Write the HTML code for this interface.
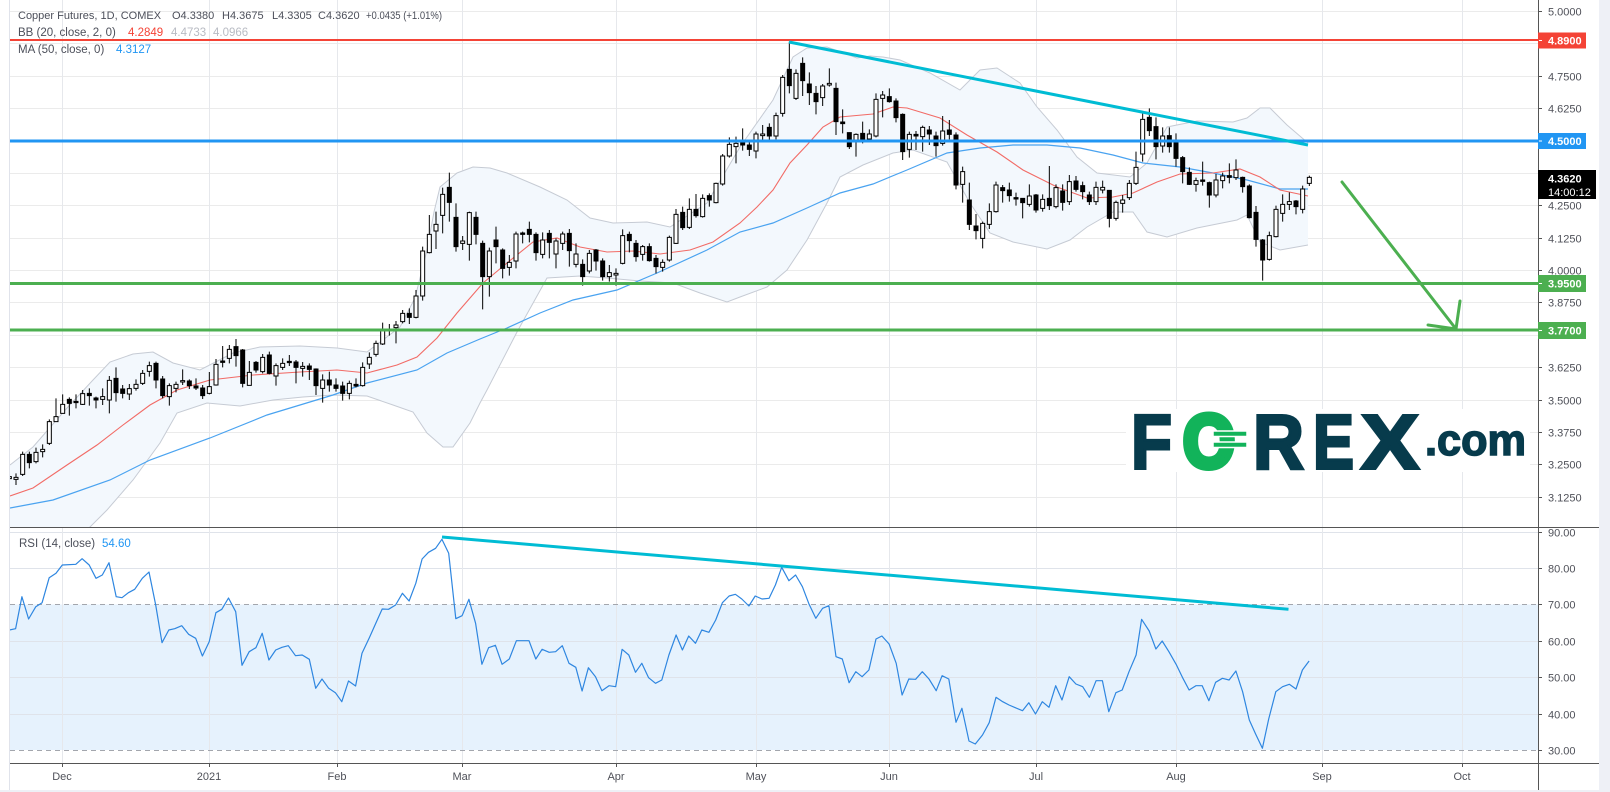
<!DOCTYPE html>
<html><head><meta charset="utf-8"><style>html,body{margin:0;padding:0;background:#fff;}svg{display:block;}</style></head>
<body>
<svg xmlns="http://www.w3.org/2000/svg" width="1610" height="792" viewBox="0 0 1610 792" font-family="'Liberation Sans', sans-serif">
<defs>
<clipPath id="cm"><rect x="10" y="0" width="1528" height="527"/></clipPath>
<clipPath id="cr"><rect x="10" y="528" width="1528" height="235"/></clipPath>
<clipPath id="cra"><rect x="1539" y="528" width="60" height="235"/></clipPath>
</defs>
<rect x="0" y="0" width="1610" height="792" fill="#fff"/>

<!-- RSI band fill -->
<rect x="10" y="604.5" width="1528" height="145.5" fill="#e6f2fd"/>

<!-- grid -->
<path d="M10 11.5H1538M10 43.5H1538M10 76.5H1538M10 108.5H1538M10 141.5H1538M10 173.5H1538M10 205.5H1538M10 238.5H1538M10 270.5H1538M10 302.5H1538M10 335.5H1538M10 367.5H1538M10 400.5H1538M10 432.5H1538M10 464.5H1538M10 497.5H1538" stroke="#ebebeb" stroke-width="1" fill="none"/>
<path d="M10 532.5H1538M10 568.5H1538M10 641.5H1538M10 677.5H1538M10 714.5H1538" stroke="#dfe3ea" stroke-width="1" fill="none"/>
<path d="M62.5 0V763M209.5 0V763M337.5 0V763M462.5 0V763M616.5 0V763M756.5 0V763M889.5 0V763M1036.5 0V763M1176.5 0V763M1322.5 0V763M1462.5 0V763" stroke="#e6e8ec" stroke-width="1" fill="none"/>
<path d="M10 604.5H1538M10 750.5H1538" stroke="#a3a6ad" stroke-width="1" stroke-dasharray="5,4" fill="none"/>

<g clip-path="url(#cm)">
<!-- Bollinger fill -->
<polygon fill="#f3f8fd" points="10,465 33,447 67,408 93,380 110,362 133,354 153,352 173,363 200,370 233,353 260,347 300,346 337,348 367,352 400,327 415,298 427,250 434,212 440,187 457,173 473,167 490,168 507,173 540,187 567,200 590,218 613,223 647,222 670,227 707,203 740,147 773,100 793,57 807,48 827,47 857,58 870,56 883,57 900,60 930,73 960,90 980,70 997,68 1020,83 1037,107 1057,130 1077,157 1097,173 1130,177 1147,163 1167,127 1197,121 1233,122 1247,118 1260,108 1270,108 1287,125 1308,143 1308,245 1280,250 1260,242 1247,215 1237,220 1197,228 1167,237 1147,232 1133,212 1113,212 1087,227 1070,240 1047,249 1013,242 990,233 970,203 947,162 913,150 893,153 863,165 840,177 827,203 807,240 787,270 767,287 740,297 727,302 700,293 673,283 640,281 607,278 580,276 547,278 517,332 487,390 480,403 470,423 453,447 443,447 427,433 413,412 393,405 367,396 333,395 303,397 273,400 240,406 207,403 177,413 160,443 133,480 107,510 90,527 60,545 10,545"/>
<polyline fill="none" stroke="#c6cbd4" stroke-width="1" points="10,465 33,447 67,408 93,380 110,362 133,354 153,352 173,363 200,370 233,353 260,347 300,346 337,348 367,352 400,327 415,298 427,250 434,212 440,187 457,173 473,167 490,168 507,173 540,187 567,200 590,218 613,223 647,222 670,227 707,203 740,147 773,100 793,57 807,48 827,47 857,58 870,56 883,57 900,60 930,73 960,90 980,70 997,68 1020,83 1037,107 1057,130 1077,157 1097,173 1130,177 1147,163 1167,127 1197,121 1233,122 1247,118 1260,108 1270,108 1287,125 1308,143"/>
<polyline fill="none" stroke="#c6cbd4" stroke-width="1" points="10,545 60,545 90,527 107,510 133,480 160,443 177,413 207,403 240,406 273,400 303,397 333,395 367,396 393,405 413,412 427,433 443,447 453,447 470,423 480,403 487,390 517,332 547,278 580,276 607,278 640,281 673,283 700,293 727,302 740,297 767,287 787,270 807,240 827,203 840,177 863,165 893,153 913,150 947,162 970,203 990,233 1013,242 1047,249 1070,240 1087,227 1113,212 1133,212 1147,232 1167,237 1197,228 1237,220 1247,215 1260,242 1280,250 1308,245"/>
<!-- MA50 -->
<polyline fill="none" stroke="#4aa3f0" stroke-width="1.2" points="10,508 53,500 110,480 150,460 210,438 267,415 333,395 367,383 417,370 447,353 480,339 507,328 540,313 573,300 617,290 657,273 707,250 740,232 773,223 807,208 840,193 873,184 907,170 947,153 980,148 1013,145 1047,145 1080,148 1113,155 1143,163 1180,167 1213,173 1247,180 1280,189 1308,189"/>
<!-- BB basis -->
<polyline fill="none" stroke="#f26b66" stroke-width="1.1" points="10,496 33,488 67,465 97,445 123,425 150,405 177,390 210,380 253,375 300,372 337,370 367,373 397,365 417,357 437,338 457,313 483,283 507,263 533,242 557,238 580,247 607,252 633,251 660,254 690,250 713,242 740,223 757,207 773,190 790,163 807,145 823,127 840,117 873,114 893,107 907,108 940,118 967,135 997,152 1023,170 1057,187 1087,198 1113,197 1133,193 1157,182 1180,174 1213,173 1240,169 1260,177 1280,190 1308,196"/>

<!-- Candles group A -->
<g transform="translate(0,150) scale(0.333333)" stroke="#000" stroke-width="3">
<path fill="none" d="M28 975V990M48 970V1005M68 905V978M88 905V955M108 893V940M128 883V922M148 808V885M168 745V815M188 733V790M208 742V797M228 733V775M248 720V765M268 715V767M288 740V775M308 715V765M328 678V790M348 652V755M368 705V745M388 702V750M408 688V722M428 660V705M448 635V680M468 635V715M488 678V745M508 700V767M528 695V727M548 658V705M568 688V717M588 685V720M608 705V747M628 666V733M648 627V707M668 588V652M688 585V640M708 567V650M728 597V712M748 633V706M768 633V668M788 612V670M808 605V673M828 640V707M848 625V660M868 615V648M888 630V700M908 636V680M928 640V690M948 655V735M968 673V758M988 665V725M1008 685V725M1028 695V752M1048 692V748M1068 685V712M1088 637V710M1108 607V657M1128 572V620M1148 518V585M1168 522V557M1188 513V580M1208 480V520M1228 475V522M1248 420V505M1268 290V452M1288 195V310M1308 185V297M1328 113V250M1348 68V215M1368 160V305M1388 258V300M1408 185V332M1428 185V283"/>
<path fill="#000" d="M82 913h12v25h-12zM202 748h12v12h-12zM222 754h12v4h-12zM262 730h12v7h-12zM282 744h12v6h-12zM342 685h12v43h-12zM362 717h12v13h-12zM462 640h12v50h-12zM482 687h12v50h-12zM562 693h12v14h-12zM582 708h12v6h-12zM602 714h12v23h-12zM662 633h12v4h-12zM702 590h12v27h-12zM722 600h12v100h-12zM762 637h12v23h-12zM802 615h12v55h-12zM862 634h12v4h-12zM882 636h12v16h-12zM922 648h12v10h-12zM942 657h12v50h-12zM982 690h12v15h-12zM1002 705h12v10h-12zM1022 708h12v22h-12zM1062 703h12v5h-12zM1222 490h12v12h-12zM1342 112h12v45h-12zM1362 202h12v88h-12zM1422 202h12v51h-12z"/>
<path fill="#fff" d="M22 980h12v6h-12zM42 982h12v6h-12zM62 913h12v60h-12zM102 907h12v28h-12zM122 898h12v7h-12zM142 815h12v65h-12zM162 800h12v15h-12zM182 763h12v27h-12zM242 731h12v32h-12zM302 740h12v8h-12zM322 691h12v59h-12zM382 716h12v16h-12zM402 703h12v12h-12zM422 670h12v30h-12zM442 647h12v17h-12zM502 707h12v33h-12zM522 703h12v12h-12zM542 692h12v4h-12zM622 710h12v20h-12zM642 643h12v62h-12zM682 598h12v27h-12zM742 667h12v39h-12zM782 622h12v43h-12zM822 647h12v31h-12zM842 640h12v12h-12zM902 649h12v6h-12zM962 690h12v25h-12zM1042 700h12v30h-12zM1082 652h12v55h-12zM1102 622h12v20h-12zM1122 580h12v33h-12zM1142 540h12v42h-12zM1162 538h12v4h-12zM1182 525h12v8h-12zM1202 490h12v25h-12zM1242 438h12v64h-12zM1262 303h12v135h-12zM1282 253h12v55h-12zM1302 223h12v20h-12zM1322 133h12v63h-12zM1382 273h12v7h-12zM1402 188h12v95h-12z"/>
</g>
<!-- Candles group B -->
<g transform="translate(440,30) scale(0.333333)" stroke="#000" stroke-width="3">
<path fill="none" d="M128 632V838M148 653V800M168 590V700M188 655V745M208 675V737M228 605V715M248 605V640M268 575V637M288 607V692M308 607V685M328 600V685M348 625V715M368 605V660M388 597V710M408 640V712M428 688V767M448 660V730M468 657V722M488 685V752M508 705V755M528 715V767M548 598V703M568 605V667M588 630V695M608 645V692M628 640V695M648 675V730M668 688V725M688 617V695M708 537V642M728 530V600M748 505V597M768 492V563M788 493V563M808 490V530M828 458V520M848 372V467M868 322V383M888 320V400M908 295V362M928 332V378M948 305V385M968 285V335M988 280V330M1008 248V328M1028 135V260M1048 35V190M1068 118V210M1088 82V198M1108 127V225M1128 168V253M1148 162V228M1168 115V170M1188 158V315M1208 238V310M1228 307V357M1248 310V380M1268 275V340M1288 298V330M1308 190V322M1328 183V262M1348 175V218M1368 205V277M1388 250V390M1408 305V383M1428 303V360"/>
<path fill="#000" d="M122 640h12v100h-12zM162 630h12v20h-12zM182 660h12v55h-12zM242 609h12v4h-12zM262 598h12v15h-12zM282 613h12v55h-12zM322 610h12v27h-12zM382 610h12v52h-12zM422 703h12v37h-12zM462 660h12v33h-12zM482 693h12v47h-12zM562 613h12v19h-12zM582 640h12v40h-12zM622 650h12v42h-12zM642 685h12v25h-12zM722 547h12v46h-12zM762 538h12v19h-12zM802 497h12v13h-12zM902 335h12v10h-12zM922 345h12v13h-12zM982 292h12v26h-12zM1042 118h12v49h-12zM1082 100h12v52h-12zM1102 162h12v26h-12zM1122 190h12v25h-12zM1182 175h12v100h-12zM1202 276h12v5h-12zM1222 308h12v42h-12zM1262 310h12v18h-12zM1342 200h12v15h-12zM1362 213h12v50h-12zM1382 253h12v112h-12zM1422 313h12v5h-12z"/>
<path fill="#fff" d="M142 663h12v77h-12zM202 697h12v15h-12zM222 612h12v81h-12zM302 630h12v43h-12zM342 633h12v39h-12zM362 612h12v28h-12zM402 672h12v31h-12zM442 670h12v53h-12zM502 728h12v12h-12zM522 730h12v5h-12zM542 617h12v83h-12zM602 650h12v23h-12zM662 697h12v15h-12zM682 622h12v68h-12zM702 553h12v87h-12zM742 538h12v54h-12zM782 505h12v55h-12zM822 460h12v58h-12zM842 378h12v84h-12zM862 343h12v35h-12zM882 340h12v10h-12zM942 312h12v51h-12zM962 312h12v5h-12zM1002 257h12v61h-12zM1022 142h12v108h-12zM1062 130h12v75h-12zM1142 168h12v35h-12zM1162 160h12v5h-12zM1242 313h12v17h-12zM1282 312h12v15h-12zM1302 208h12v110h-12zM1322 195h12v10h-12zM1402 313h12v45h-12z"/>
</g>
<!-- Candles group C -->
<g transform="translate(880,30) scale(0.333333)" stroke="#000" stroke-width="3">
<path fill="none" d="M128 287V365M148 288V345M168 305V380M188 258V347M208 270V328M228 307V478M248 410V518M268 458V600M288 552V628M308 575V655M328 520V597M348 455V548M368 465V518M388 458V515M408 488V527M428 505V565M448 463V530M468 492V548M488 493V545M508 408V540M528 463V535M548 463V542M568 435V525M588 438V485M608 455V508M628 485V525M648 455V525M668 452V490M688 480V592M708 512V572M728 495V548M748 450V510M768 365V465M788 250V395M808 235V318M828 262V388M848 292V368M868 292V368M888 310V410M908 378V460M928 412V465M948 443V485M968 395V467M988 455V533M1008 432V502M1028 428V475M1048 400V460M1068 388V450M1088 440V488M1108 463V565M1128 528V650M1148 627V752M1168 605V692M1188 527V622M1208 493V575M1228 487V540M1248 510V553M1268 467V550M1288 437V468"/>
<path fill="#000" d="M142 300h12v12h-12zM162 318h12v29h-12zM202 300h12v13h-12zM222 315h12v150h-12zM262 510h12v73h-12zM282 588h12v14h-12zM362 473h12v9h-12zM382 480h12v17h-12zM402 503h12v4h-12zM422 505h12v13h-12zM462 495h12v45h-12zM502 505h12v22h-12zM542 483h12v34h-12zM582 453h12v25h-12zM602 467h12v18h-12zM622 495h12v20h-12zM682 481h12v84h-12zM802 262h12v40h-12zM822 290h12v60h-12zM862 317h12v33h-12zM882 337h12v48h-12zM902 383h12v42h-12zM922 427h12v36h-12zM962 450h12v4h-12zM982 458h12v37h-12zM1042 437h12v5h-12zM1082 442h12v28h-12zM1102 468h12v95h-12zM1122 547h12v81h-12zM1142 630h12v60h-12zM1242 513h12v17h-12z"/>
<path fill="#fff" d="M122 292h12v28h-12zM182 303h12v37h-12zM242 425h12v38h-12zM302 580h12v45h-12zM322 545h12v38h-12zM342 465h12v80h-12zM442 498h12v25h-12zM482 508h12v27h-12zM522 473h12v57h-12zM562 455h12v60h-12zM642 472h12v43h-12zM662 472h12v8h-12zM702 517h12v48h-12zM722 510h12v10h-12zM742 460h12v43h-12zM762 412h12v48h-12zM782 268h12v104h-12zM842 318h12v30h-12zM942 452h12v11h-12zM1002 450h12v45h-12zM1022 438h12v14h-12zM1062 420h12v23h-12zM1162 617h12v71h-12zM1182 538h12v82h-12zM1202 523h12v27h-12zM1222 515h12v8h-12zM1262 477h12v61h-12zM1282 442h12v18h-12z"/>
</g>

<!-- level lines -->
<line x1="10" y1="40" x2="1538" y2="40" stroke="#f44336" stroke-width="2"/>
<line x1="10" y1="141" x2="1538" y2="141" stroke="#2196f3" stroke-width="3"/>
<line x1="10" y1="283.5" x2="1538" y2="283.5" stroke="#4caf50" stroke-width="3"/>
<line x1="10" y1="330" x2="1538" y2="330" stroke="#4caf50" stroke-width="3"/>
<!-- trendline -->
<line x1="789" y1="42" x2="1308" y2="145" stroke="#00bcd4" stroke-width="3"/>
<!-- arrow -->
<path d="M1342 182L1456 329M1428 325L1456 329L1460 301" stroke="#4caf50" stroke-width="3" fill="none" stroke-linecap="round" stroke-linejoin="round"/>

<!-- logo -->
<rect x="1126" y="409" width="404" height="63" fill="#fff"/>
<g font-family="'Liberation Sans', sans-serif" font-weight="bold">
<text x="1131" y="468.5" font-size="77" fill="#073b4c" stroke="#073b4c" stroke-width="3" textLength="41" lengthAdjust="spacingAndGlyphs">F</text>
<text x="1183" y="467.5" font-size="75" fill="#12b35a" stroke="#12b35a" stroke-width="6" stroke-linejoin="round" textLength="52" lengthAdjust="spacingAndGlyphs">O</text>
<text x="1253" y="468.5" font-size="77" fill="#073b4c" stroke="#073b4c" stroke-width="3" textLength="51" lengthAdjust="spacingAndGlyphs">R</text>
<text x="1313" y="468.5" font-size="77" fill="#073b4c" stroke="#073b4c" stroke-width="3" textLength="41" lengthAdjust="spacingAndGlyphs">E</text>
<text x="1361" y="468.5" font-size="77" fill="#073b4c" stroke="#073b4c" stroke-width="3" textLength="58" lengthAdjust="spacingAndGlyphs">X</text>
<text x="1425" y="455" font-size="44" fill="#073b4c" stroke="#073b4c" stroke-width="1.5" textLength="101" lengthAdjust="spacingAndGlyphs">.com</text>
</g>
<rect x="1213" y="431" width="34" height="5.5" fill="#12b35a" stroke="#fff" stroke-width="1.5"/>
<rect x="1213" y="442" width="34" height="5.5" fill="#12b35a" stroke="#fff" stroke-width="1.5"/>
</g>

<!-- legend main -->
<g font-size="11" fill="#4c4f5a">
<text x="18" y="19">Copper Futures, 1D, COMEX</text>
<text x="172" y="19">O4.3380</text>
<text x="222" y="19">H4.3675</text>
<text x="272" y="19">L4.3305</text>
<text x="318" y="19">C4.3620</text>
<text x="366" y="19" textLength="76" lengthAdjust="spacingAndGlyphs">+0.0435 (+1.01%)</text>
</g>
<g font-size="11.5" fill="#4c4f5a">
<text x="18" y="36">BB (20, close, 2, 0)</text>
<text x="128" y="36" fill="#f44336">4.2849</text>
<text x="171" y="36" fill="#b8bbc3">4.4733</text>
<text x="213" y="36" fill="#b8bbc3">4.0966</text>
<text x="18" y="53">MA (50, close, 0)</text>
<text x="116" y="53" fill="#2196f3">4.3127</text>
</g>

<!-- RSI -->
<g clip-path="url(#cr)">
<polyline fill="none" stroke="#2e86e0" stroke-width="1.2" stroke-linejoin="round" points="9.3,630 15.6,628.7 21.9,596.7 28.6,619 35.8,606.7 42.1,602.7 49.2,577.7 56,573.3 62.3,565 75.8,564.3 82.1,558.7 89.2,565 96,578.3 102.3,575 109,562.7 116.2,596.7 122,597.7 128.4,592.7 134.7,589.3 142.3,578.3 149,572 155.7,605 162,642.7 168.8,630 174.7,628.7 181.8,625.7 188.6,634.3 195.7,638.3 202.4,656 209.2,641.7 215.9,612.7 221.8,609.3 228.5,598 235.7,611.7 242,665.3 249.2,651.7 255.9,647.7 262.2,633.3 268.9,660 275.7,650 282,647.3 288.3,645.7 295.5,655.7 302.2,655 309.3,659.3 315.7,688.3 322,679 328.7,688.3 335.4,692.7 341.8,701.7 348.5,681 355.6,686 362,653.3 369.1,638.3 375.8,623.3 382.2,609 388.5,609.3 395.6,605 402.4,593.3 409.1,601 415.8,583.3 422.1,559 428.5,552.3 435.6,548.3 441.9,539.3 448.7,553.3 455.8,618.7 462.1,615.7 468.9,599.3 475.6,623.3 481.9,664.3 488.6,647.7 495.4,645.3 502.1,664.3 509.3,659 516.4,640.7 522.7,640.7 529,640.7 535.8,659 542.1,649.3 549.2,652.3 555.6,651.7 562.3,645.7 569,663.3 575.8,667.3 582.1,691 588.4,667.7 595.5,676.7 601.9,690.7 609,685.7 615.7,686.7 622.1,649.3 628.8,655 635.5,672.3 641.8,663.3 648.6,677.7 655.5,683.3 661.8,680 668.9,655 676.1,635 682.4,650 688.7,636 695.5,643.3 701.8,630 708.9,632.3 715.7,620 722.4,602.7 729.1,596 735.4,594.3 741.8,599 748.9,606 755.2,596 762,599 769.1,598.3 775.4,585 781.7,567.3 788.9,580.7 795.6,575 802.4,586.7 809.1,604.3 815.8,618.3 822.6,608.3 828.9,605.7 836,656.7 842.3,659 849.1,682.7 855.8,671.7 862.1,676.7 868.9,670 876,639 881.9,636 889.1,644 896.2,663.3 902.1,695 908.8,679 915.6,679.3 922.3,671.7 929,679 936.2,690.7 942.1,675.7 948.8,679 956,722.3 961.9,708.3 969,741 975.3,744 982.5,735 989.2,722.7 996,697.3 1002.7,701.7 1009,705 1015.3,707.7 1022.5,710.7 1028.8,702.7 1035.5,714 1042.3,701.7 1049,707.3 1055.7,685.7 1062,700 1069.2,676.7 1075.9,684 1082.7,686.7 1089.4,697.3 1096.1,680.7 1102.4,680.7 1108.8,711.7 1115.9,692.7 1122.2,690 1129,671.7 1136.1,655 1141.6,619.3 1149.2,631 1155.9,649 1162.2,641 1168.9,651.7 1176.1,664.3 1182.4,677.3 1189.1,690 1195.9,685.7 1202.2,685.7 1208.9,700.7 1215.6,682.3 1222.4,678.3 1229.1,680 1235.9,671 1242.6,691.7 1249.3,720 1255.6,734 1262.4,748.3 1268.7,719 1275.8,691.7 1282.6,686.7 1289.3,684.3 1296,689 1302.4,670 1309.1,661"/>
<line x1="442" y1="537" x2="1288.5" y2="609.3" stroke="#00bcd4" stroke-width="3"/>
</g>
<text x="19" y="547" font-size="11.5" fill="#4c4f5a">RSI (14, close)</text>
<text x="102" y="547" font-size="11.5" fill="#2196f3">54.60</text>

<!-- frame lines -->
<line x1="9.5" y1="0" x2="9.5" y2="790" stroke="#e0e3eb" stroke-width="1"/>
<line x1="10" y1="527.5" x2="1599" y2="527.5" stroke="#555" stroke-width="1"/>
<line x1="10" y1="763.5" x2="1599" y2="763.5" stroke="#555" stroke-width="1"/>
<line x1="1538.5" y1="0" x2="1538.5" y2="790" stroke="#555" stroke-width="1"/>
<rect x="1599" y="0" width="11" height="792" fill="#eef0f6"/>
<rect x="0" y="790" width="1610" height="2" fill="#eef0f6"/>

<!-- price axis ticks & labels -->
<path d="M1538 11.5h4M1538 76.5h4M1538 108.5h4M1538 205.5h4M1538 238.5h4M1538 270.5h4M1538 302.5h4M1538 367.5h4M1538 400.5h4M1538 432.5h4M1538 464.5h4M1538 497.5h4" stroke="#555" stroke-width="1"/>
<g font-size="11" fill="#4f5159">
<text x="1548" y="15.5">5.0000</text>
<text x="1548" y="80.5">4.7500</text>
<text x="1548" y="112.5">4.6250</text>
<text x="1548" y="209.5">4.2500</text>
<text x="1548" y="242.5">4.1250</text>
<text x="1548" y="274.5">4.0000</text>
<text x="1548" y="306.5">3.8750</text>
<text x="1548" y="371.5">3.6250</text>
<text x="1548" y="404.5">3.5000</text>
<text x="1548" y="436.5">3.3750</text>
<text x="1548" y="468.5">3.2500</text>
<text x="1548" y="501.5">3.1250</text>
</g>
<!-- badges -->
<rect x="1538" y="32.5" width="48" height="16" fill="#f44336"/>
<rect x="1538" y="133" width="48" height="16" fill="#2196f3"/>
<rect x="1538" y="170" width="58" height="29" fill="#000"/>
<rect x="1538" y="275" width="48" height="17" fill="#4caf50"/>
<rect x="1538" y="322" width="48" height="17" fill="#4caf50"/>
<g font-size="11" fill="#fff" font-weight="bold">
<text x="1548" y="44.5">4.8900</text>
<text x="1548" y="145">4.5000</text>
<text x="1548" y="182.5">4.3620</text>
<text x="1548" y="287.5">3.9500</text>
<text x="1548" y="334.5">3.7700</text>
</g>
<text x="1548" y="196" font-size="11" fill="#fff">14:00:12</text>
<path d="M1539 40.5h3M1539 141h3M1539 283.5h3M1539 330.5h3" stroke="#fff" stroke-width="1"/>

<!-- RSI axis -->
<path d="M1538 532.5h4M1538 568.5h4M1538 604.5h4M1538 641.5h4M1538 677.5h4M1538 714.5h4M1538 750.5h4" stroke="#555" stroke-width="1"/>
<g font-size="11" fill="#4f5159" clip-path="url(#cra)">
<text x="1548" y="536.5">90.00</text>
<text x="1548" y="572.5">80.00</text>
<text x="1548" y="608.5">70.00</text>
<text x="1548" y="645.5">60.00</text>
<text x="1548" y="681.5">50.00</text>
<text x="1548" y="718.5">40.00</text>
<text x="1548" y="754.5">30.00</text>
</g>

<!-- date axis -->
<path d="M62.5 763v4M209.5 763v4M337.5 763v4M462.5 763v4M616.5 763v4M756.5 763v4M889.5 763v4M1036.5 763v4M1176.5 763v4M1322.5 763v4M1462.5 763v4" stroke="#555" stroke-width="1"/>
<g font-size="11" fill="#4f5159" text-anchor="middle">
<text x="62" y="780">Dec</text>
<text x="209" y="780">2021</text>
<text x="337" y="780">Feb</text>
<text x="462" y="780">Mar</text>
<text x="616" y="780">Apr</text>
<text x="756" y="780">May</text>
<text x="889" y="780">Jun</text>
<text x="1036" y="780">Jul</text>
<text x="1176" y="780">Aug</text>
<text x="1322" y="780">Sep</text>
<text x="1462" y="780">Oct</text>
</g>
</svg>
</body></html>
